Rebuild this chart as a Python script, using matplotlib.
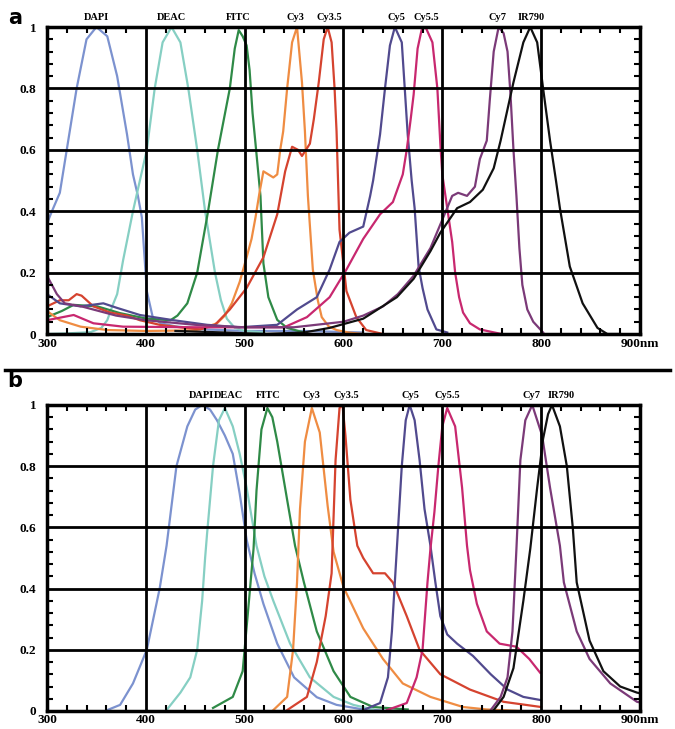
import numpy as np
import matplotlib.pyplot as plt
from matplotlib.lines import Line2D
from matplotlib.ticker import MultipleLocator, FixedLocator

dyes = ['DAPI', 'DEAC', 'FITC', 'Cy3', 'Cy3.5', 'Cy5', 'Cy5.5', 'Cy7', 'IR790']
colors = ['#7c92cf', '#86cfc3', '#2f8a47', '#ef8c42', '#d5432f',
          '#514a8e', '#c8286f', '#7b3a78', '#111111']

# (a) absorption spectra, wavelength nm / normalized
abs_x = {
    'DAPI': [300, 305, 313, 320, 330, 340, 350, 361, 371, 381, 387, 392, 396, 401, 407, 415, 430, 460, 500, 560, 620],
    'DEAC': [300, 320, 344, 355, 361, 366, 371, 377, 382, 387, 394, 401, 409, 417, 426, 435, 443, 452, 460, 465, 470, 476, 482, 490, 500, 520],
    'FITC': [300, 315, 327, 351, 374, 401, 425, 432, 442, 452, 463, 473, 485, 490, 494, 498, 502, 505, 508, 511, 516, 519, 524, 533, 543, 560],
    'Cy3': [300, 313, 334, 361, 400, 450, 462, 472, 480, 487, 495, 502, 507, 511, 515, 519, 524, 529, 533, 536, 539, 543, 548, 553, 558, 561, 564, 569, 574, 578, 585, 593, 605, 620],
    'Cy3.5': [300, 313, 322, 330, 335, 347, 364, 381, 394, 414, 440, 455, 470, 485, 502, 519, 533, 541, 548, 554, 558, 566, 570, 575, 580, 584, 588, 591, 593, 596, 603, 613, 623, 640],
    'Cy5': [300, 313, 334, 357, 371, 394, 428, 462, 495, 533, 553, 573, 586, 596, 606, 620, 627, 630, 637, 642, 647, 652, 659, 662, 665, 669, 672, 676, 680, 685, 694, 705],
    'Cy5.5': [300, 327, 347, 377, 450, 540, 563, 586, 603, 620, 637, 650, 660, 664, 668, 671, 675, 679, 683, 690, 695, 698, 700, 705, 710, 713, 717, 721, 728, 738, 760],
    'Cy7': [300, 310, 318, 335, 370, 400, 450, 500, 550, 600, 620, 640, 655, 671, 688, 701, 710, 716, 725, 733, 738, 745, 748, 752, 757, 762, 766, 769, 772, 775, 778, 781, 786, 792, 802],
    'IR790': [430, 480, 520, 560, 586, 620, 654, 671, 688, 698, 715, 728, 741, 752, 759, 772, 782, 789, 796, 802, 809, 815, 819, 829, 842, 857, 867, 880],
}
abs_y = {
    'DAPI': [0.36, 0.40, 0.46, 0.60, 0.80, 0.96, 1.0, 0.97, 0.84, 0.65, 0.52, 0.45, 0.38, 0.14, 0.055, 0.035, 0.025, 0.015, 0.01, 0.01, 0.005],
    'DEAC': [0.0, 0.002, 0.006, 0.02, 0.045, 0.09, 0.13, 0.24, 0.32, 0.40, 0.5, 0.6, 0.8, 0.95, 1.0, 0.95, 0.8, 0.6, 0.4, 0.3, 0.2, 0.11, 0.05, 0.02, 0.01, 0.005],
    'FITC': [0.055, 0.075, 0.095, 0.09, 0.068, 0.05, 0.045, 0.06, 0.1, 0.2, 0.4, 0.6, 0.8, 0.93, 0.99, 0.97, 0.94, 0.86, 0.72, 0.62, 0.45, 0.23, 0.12, 0.046, 0.02, 0.005],
    'Cy3': [0.075, 0.045, 0.024, 0.013, 0.01, 0.012, 0.024, 0.035, 0.06, 0.1, 0.17, 0.25, 0.31, 0.38, 0.46, 0.53, 0.52, 0.51, 0.52, 0.6, 0.66, 0.8, 0.95, 1.0, 0.82, 0.66, 0.45, 0.21, 0.11, 0.055, 0.025, 0.013, 0.005, 0.0],
    'Cy3.5': [0.09, 0.11, 0.11, 0.13, 0.125, 0.09, 0.07, 0.06, 0.045, 0.03, 0.02, 0.015, 0.03, 0.08, 0.15, 0.25, 0.39, 0.53, 0.61, 0.60, 0.58, 0.62, 0.7, 0.82, 0.96, 1.0, 0.95, 0.8, 0.66, 0.34, 0.14, 0.055, 0.013, 0.0],
    'Cy5': [0.13, 0.10, 0.09, 0.10, 0.085, 0.062, 0.045, 0.03, 0.022, 0.03, 0.08, 0.12, 0.21, 0.30, 0.33, 0.35, 0.45, 0.5, 0.65, 0.8, 0.94, 1.0, 0.95, 0.8, 0.65, 0.5, 0.41, 0.22, 0.15, 0.08, 0.015, 0.005],
    'Cy5.5': [0.045, 0.062, 0.035, 0.024, 0.022, 0.022, 0.055, 0.12, 0.21, 0.31, 0.39, 0.43, 0.52, 0.6, 0.7, 0.78, 0.93, 0.99, 1.0, 0.95, 0.8, 0.62, 0.52, 0.41, 0.3, 0.2, 0.12, 0.07, 0.035, 0.015, 0.0],
    'Cy7': [0.19, 0.13, 0.10, 0.09, 0.06, 0.045, 0.03, 0.022, 0.022, 0.04, 0.06, 0.09, 0.13, 0.19, 0.28, 0.38, 0.45, 0.46, 0.45, 0.48, 0.57, 0.63, 0.76, 0.92, 1.0, 0.98, 0.92, 0.78, 0.6, 0.45, 0.28, 0.16, 0.08, 0.04, 0.005],
    'IR790': [0.01, 0.005, 0.0, 0.005, 0.02, 0.05, 0.12, 0.18, 0.27, 0.33, 0.41, 0.43, 0.47, 0.54, 0.63, 0.82, 0.95, 1.0, 0.95, 0.80, 0.63, 0.5, 0.41, 0.22, 0.10, 0.02, 0.0, 0.0],
}

# (b) emission spectra
em_x = {
    'DAPI': [361, 374, 387, 401, 414, 421, 431, 442, 450, 457, 465, 472, 480, 488, 495, 502, 510, 519, 533, 550, 573, 593, 620, 650],
    'DEAC': [421, 435, 445, 452, 457, 460, 462, 468, 474, 480, 488, 495, 502, 512, 520, 529, 546, 566, 590, 610, 630],
    'FITC': [468, 488, 498, 503, 509, 512, 517, 523, 528, 533, 543, 551, 560, 573, 590, 607, 630, 665],
    'Cy3': [529, 543, 549, 553, 556, 561, 568, 576, 584, 590, 600, 620, 640, 660, 688, 721, 745, 780],
    'Cy3.5': [543, 563, 573, 582, 588, 592, 596, 599, 602, 607, 614, 620, 630, 642, 650, 664, 677, 698, 728, 762, 800],
    'Cy5': [620, 637, 645, 649, 654, 659, 663, 667, 672, 677, 682, 688, 693, 698, 705, 715, 731, 749, 766, 782, 799],
    'Cy5.5': [644, 664, 674, 680, 685, 688, 692, 696, 700, 705, 713, 720, 725, 728, 735, 745, 758, 775, 788, 799],
    'Cy7': [749, 759, 766, 771, 775, 779, 784, 791, 801, 809, 819, 823, 836, 849, 870, 897, 900],
    'IR790': [752, 762, 772, 782, 789, 796, 802, 807, 811, 819, 826, 832, 836, 849, 863, 880, 897, 900],
}
em_y = {
    'DAPI': [0.003, 0.02, 0.09, 0.2, 0.40, 0.54, 0.80, 0.93, 0.985, 1.0, 0.985, 0.95, 0.9, 0.84, 0.71, 0.56, 0.45, 0.35, 0.22, 0.11, 0.045, 0.02, 0.005, 0.0],
    'DEAC': [0.003, 0.06, 0.11, 0.2, 0.36, 0.5, 0.58, 0.80, 0.95, 0.99, 0.93, 0.84, 0.73, 0.54, 0.44, 0.36, 0.22, 0.11, 0.046, 0.02, 0.005],
    'FITC': [0.01, 0.046, 0.13, 0.31, 0.53, 0.72, 0.92, 0.99, 0.96, 0.88, 0.69, 0.54, 0.42, 0.26, 0.13, 0.046, 0.013, 0.005],
    'Cy3': [0.003, 0.046, 0.2, 0.42, 0.66, 0.88, 0.99, 0.91, 0.67, 0.52, 0.405, 0.27, 0.17, 0.09, 0.046, 0.013, 0.005, 0.0],
    'Cy3.5': [0.003, 0.046, 0.16, 0.31, 0.45, 0.82, 0.99, 1.0, 0.9, 0.69, 0.54, 0.5, 0.45, 0.45, 0.42, 0.31, 0.2, 0.12, 0.07, 0.03, 0.013],
    'Cy5': [0.003, 0.026, 0.11, 0.26, 0.53, 0.80, 0.95, 1.0, 0.95, 0.82, 0.66, 0.54, 0.42, 0.31, 0.25, 0.22, 0.18, 0.12, 0.07, 0.046, 0.036],
    'Cy5.5': [0.003, 0.026, 0.11, 0.2, 0.42, 0.53, 0.65, 0.80, 0.93, 0.99, 0.93, 0.73, 0.54, 0.46, 0.35, 0.26, 0.22, 0.21, 0.17, 0.125],
    'Cy7': [0.003, 0.046, 0.11, 0.26, 0.53, 0.82, 0.95, 1.0, 0.90, 0.73, 0.54, 0.42, 0.26, 0.17, 0.09, 0.03, 0.028],
    'IR790': [0.003, 0.046, 0.14, 0.36, 0.53, 0.73, 0.89, 0.97, 1.0, 0.93, 0.80, 0.60, 0.42, 0.23, 0.13, 0.08, 0.06, 0.058],
}

# label positions (nm) above each panel
abs_label_x = [350, 426, 494, 551, 586, 654, 684, 756, 790]
em_label_x = [456, 484, 524, 568, 603, 668, 705, 790, 820]

xticks = [300, 400, 500, 600, 700, 800, 900]
xticklabels = ['300', '400', '500', '600', '700', '800', '900nm']
yticks = [0, 0.2, 0.4, 0.6, 0.8, 1]
yticklabels = ['0', '0.2', '0.4', '0.6', '0.8', '1']

serif = 'Liberation Serif'

fig = plt.figure(figsize=(6.75, 7.29), dpi=100)
ax_a = fig.add_axes([0.0696, 0.5418, 0.8785, 0.4211])
ax_b = fig.add_axes([0.0696, 0.0247, 0.8785, 0.4198])


def style(ax, xs, ys, label_x):
    for d, c in zip(dyes, colors):
        ax.plot(xs[d], ys[d], color=c, lw=1.6, solid_joinstyle='round', zorder=2)
    ax.set_xlim(300, 900)
    ax.set_ylim(0, 1)
    ax.xaxis.set_major_locator(FixedLocator(xticks))
    ax.yaxis.set_major_locator(FixedLocator(yticks))
    ax.set_xticklabels(xticklabels, fontfamily=serif, fontweight='bold', fontsize=9.5)
    ax.set_yticklabels(yticklabels, fontfamily=serif, fontweight='bold', fontsize=9.5)
    ax.xaxis.set_minor_locator(MultipleLocator(20))
    ax.yaxis.set_minor_locator(MultipleLocator(0.04))
    ax.tick_params(axis='x', which='major', length=0, pad=2.5)
    ax.tick_params(axis='y', which='major', length=0, pad=7.5)
    ax.tick_params(which='minor', direction='in', length=4, width=1.5,
                   top=True, right=True, bottom=True, left=True)
    ax.set_axisbelow(False)
    ax.grid(True, which='major', color='black', lw=2)
    for sp in ax.spines.values():
        sp.set_linewidth(2.5)
    for d, lx in zip(dyes, label_x):
        ax.text(lx, 1.015, d, transform=ax.get_xaxis_transform(), ha='center',
                va='bottom', fontfamily=serif, fontweight='bold', fontsize=7.5)


style(ax_a, abs_x, abs_y, abs_label_x)
style(ax_b, em_x, em_y, em_label_x)

fig.text(0.022, 0.975, 'a', fontsize=15, fontweight='bold', ha='center', va='center')
fig.text(0.022, 0.478, 'b', fontsize=15, fontweight='bold', ha='center', va='center')
fig.add_artist(Line2D([0.008, 0.993], [0.4925, 0.4925], color='black', lw=2.5,
                      transform=fig.transFigure))

fig.savefig('out.png', dpi=100)
